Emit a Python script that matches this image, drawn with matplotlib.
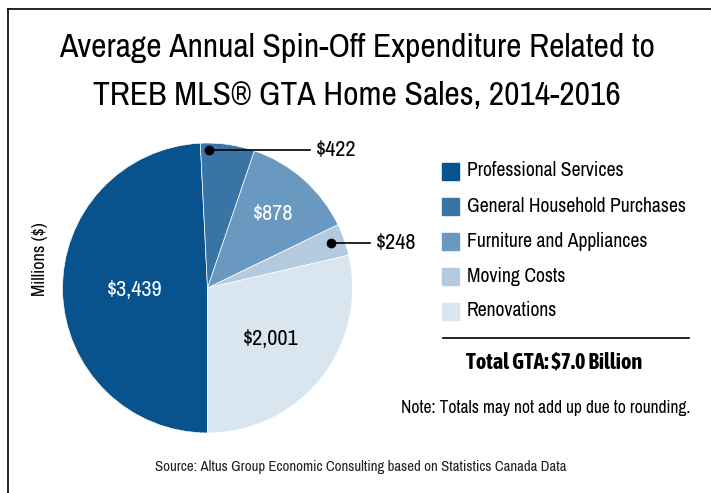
import numpy as np
import matplotlib
matplotlib.use("Agg")
import matplotlib.pyplot as plt
from matplotlib import font_manager

categories = ["Professional Services", "General Household Purchases",
              "Furniture and Appliances", "Moving Costs", "Renovations"]
values = [3439, 422, 878, 248, 2001]
value_labels = ["$3,439", "$422", "$878", "$248", "$2,001"]
colors = ["#08528E", "#3874A6", "#6998C0", "#B4CADE", "#D9E5EF"]

# look for a condensed family, the reference uses a narrow font
fonts = font_manager.fontManager.ttflist
condensed = sorted({f.name for f in fonts if "Condensed" in f.name or "Narrow" in f.name})
with_bold = [n for n in condensed if any(f.name == n and f.weight in (600, 700, "bold") for f in fonts)]
plt.rcParams["font.family"] = condensed[:1] + ["DejaVu Sans"]
bold_family = (with_bold or condensed)[:1] + ["DejaVu Sans"]

fig = plt.figure(figsize=(7.11, 4.93), dpi=100)

# frame line (left and top only)
fig.add_artist(plt.Line2D([8 / 711, 8 / 711], [0, 1 - 9 / 493], color="black", lw=1.2))
fig.add_artist(plt.Line2D([8 / 711, 1], [1 - 9 / 493, 1 - 9 / 493], color="black", lw=1.2))

t1 = fig.text(0.502, 1 - 48 / 493, "Average Annual Spin-Off Expenditure Related to",
              ha="center", va="center", fontsize=30)
t2 = fig.text(0.502, 1 - 96 / 493, "TREB MLS® GTA Home Sales, 2014-2016",
              ha="center", va="center", fontsize=30)
# shrink the title so the first line is as wide as in the reference (~597 px)
r = fig.canvas.get_renderer()
w = t1.get_window_extent(r).width
size = min(30, 30 * 597 / w)
t1.set_fontsize(size)
t2.set_fontsize(size)

ax = fig.add_axes([62.5 / 711, 60 / 493, 290 / 711, 290 / 493])
wedges, _ = ax.pie(values, colors=colors, startangle=270, counterclock=False,
                   wedgeprops=dict(edgecolor="white", linewidth=0.5))
ax.set_xlim(-1, 1)
ax.set_ylim(-1, 1)
ax.set_aspect("equal")

# labels inside the larger wedges
inside = {0: (0.5, "white"), 2: (0.68, "white"), 4: (0.56, "black")}
for i, (rad, c) in inside.items():
    wd = wedges[i]
    ang = np.deg2rad((wd.theta1 + wd.theta2) / 2)
    ax.text(rad * np.cos(ang), rad * np.sin(ang), value_labels[i], color=c,
            ha="center", va="center", fontsize=16)

# callouts for the small wedges
callouts = {1: ((0.01, 0.95), (0.71, 0.95)), 3: ((0.85, 0.31), (1.12, 0.31))}
for i, (dot, end) in callouts.items():
    ax.plot([dot[0], end[0]], [dot[1], end[1]], color="black", lw=1.2, clip_on=False)
    ax.plot(*dot, "o", color="black", ms=6, clip_on=False)
    ax.text(end[0] + 0.04, end[1], value_labels[i], ha="left", va="center",
            fontsize=16, clip_on=False)

fig.text(40 / 711, 1 - 259 / 493, "Millions ($)", rotation=90,
         ha="center", va="center", fontsize=13)

# legend
for k, (name, c) in enumerate(zip(categories, colors)):
    y = 1 - (171 + 35 * k) / 493
    fig.patches.append(plt.Rectangle((442 / 711, y - 8.5 / 493), 17 / 711, 17 / 493,
                                     color=c, transform=fig.transFigure))
    fig.text(467 / 711, y, name, ha="left", va="center", fontsize=14.2)

fig.add_artist(plt.Line2D([443 / 711, 689 / 711], [1 - 338 / 493, 1 - 338 / 493],
                          color="black", lw=1.2))
fig.text(554 / 711, 1 - 362 / 493, "Total GTA: $7.0 Billion", ha="center",
         va="center", fontsize=16, fontweight="bold", family=bold_family)
fig.text(546 / 711, 1 - 408 / 493, "Note: Totals may not add up due to rounding.",
         ha="center", va="center", fontsize=12.6)
fig.text(361 / 711, 1 - 467 / 493,
         "Source: Altus Group Economic Consulting based on Statistics Canada Data",
         ha="center", va="center", fontsize=10.7, color="#222222")

fig.savefig("out.png", dpi=100)
